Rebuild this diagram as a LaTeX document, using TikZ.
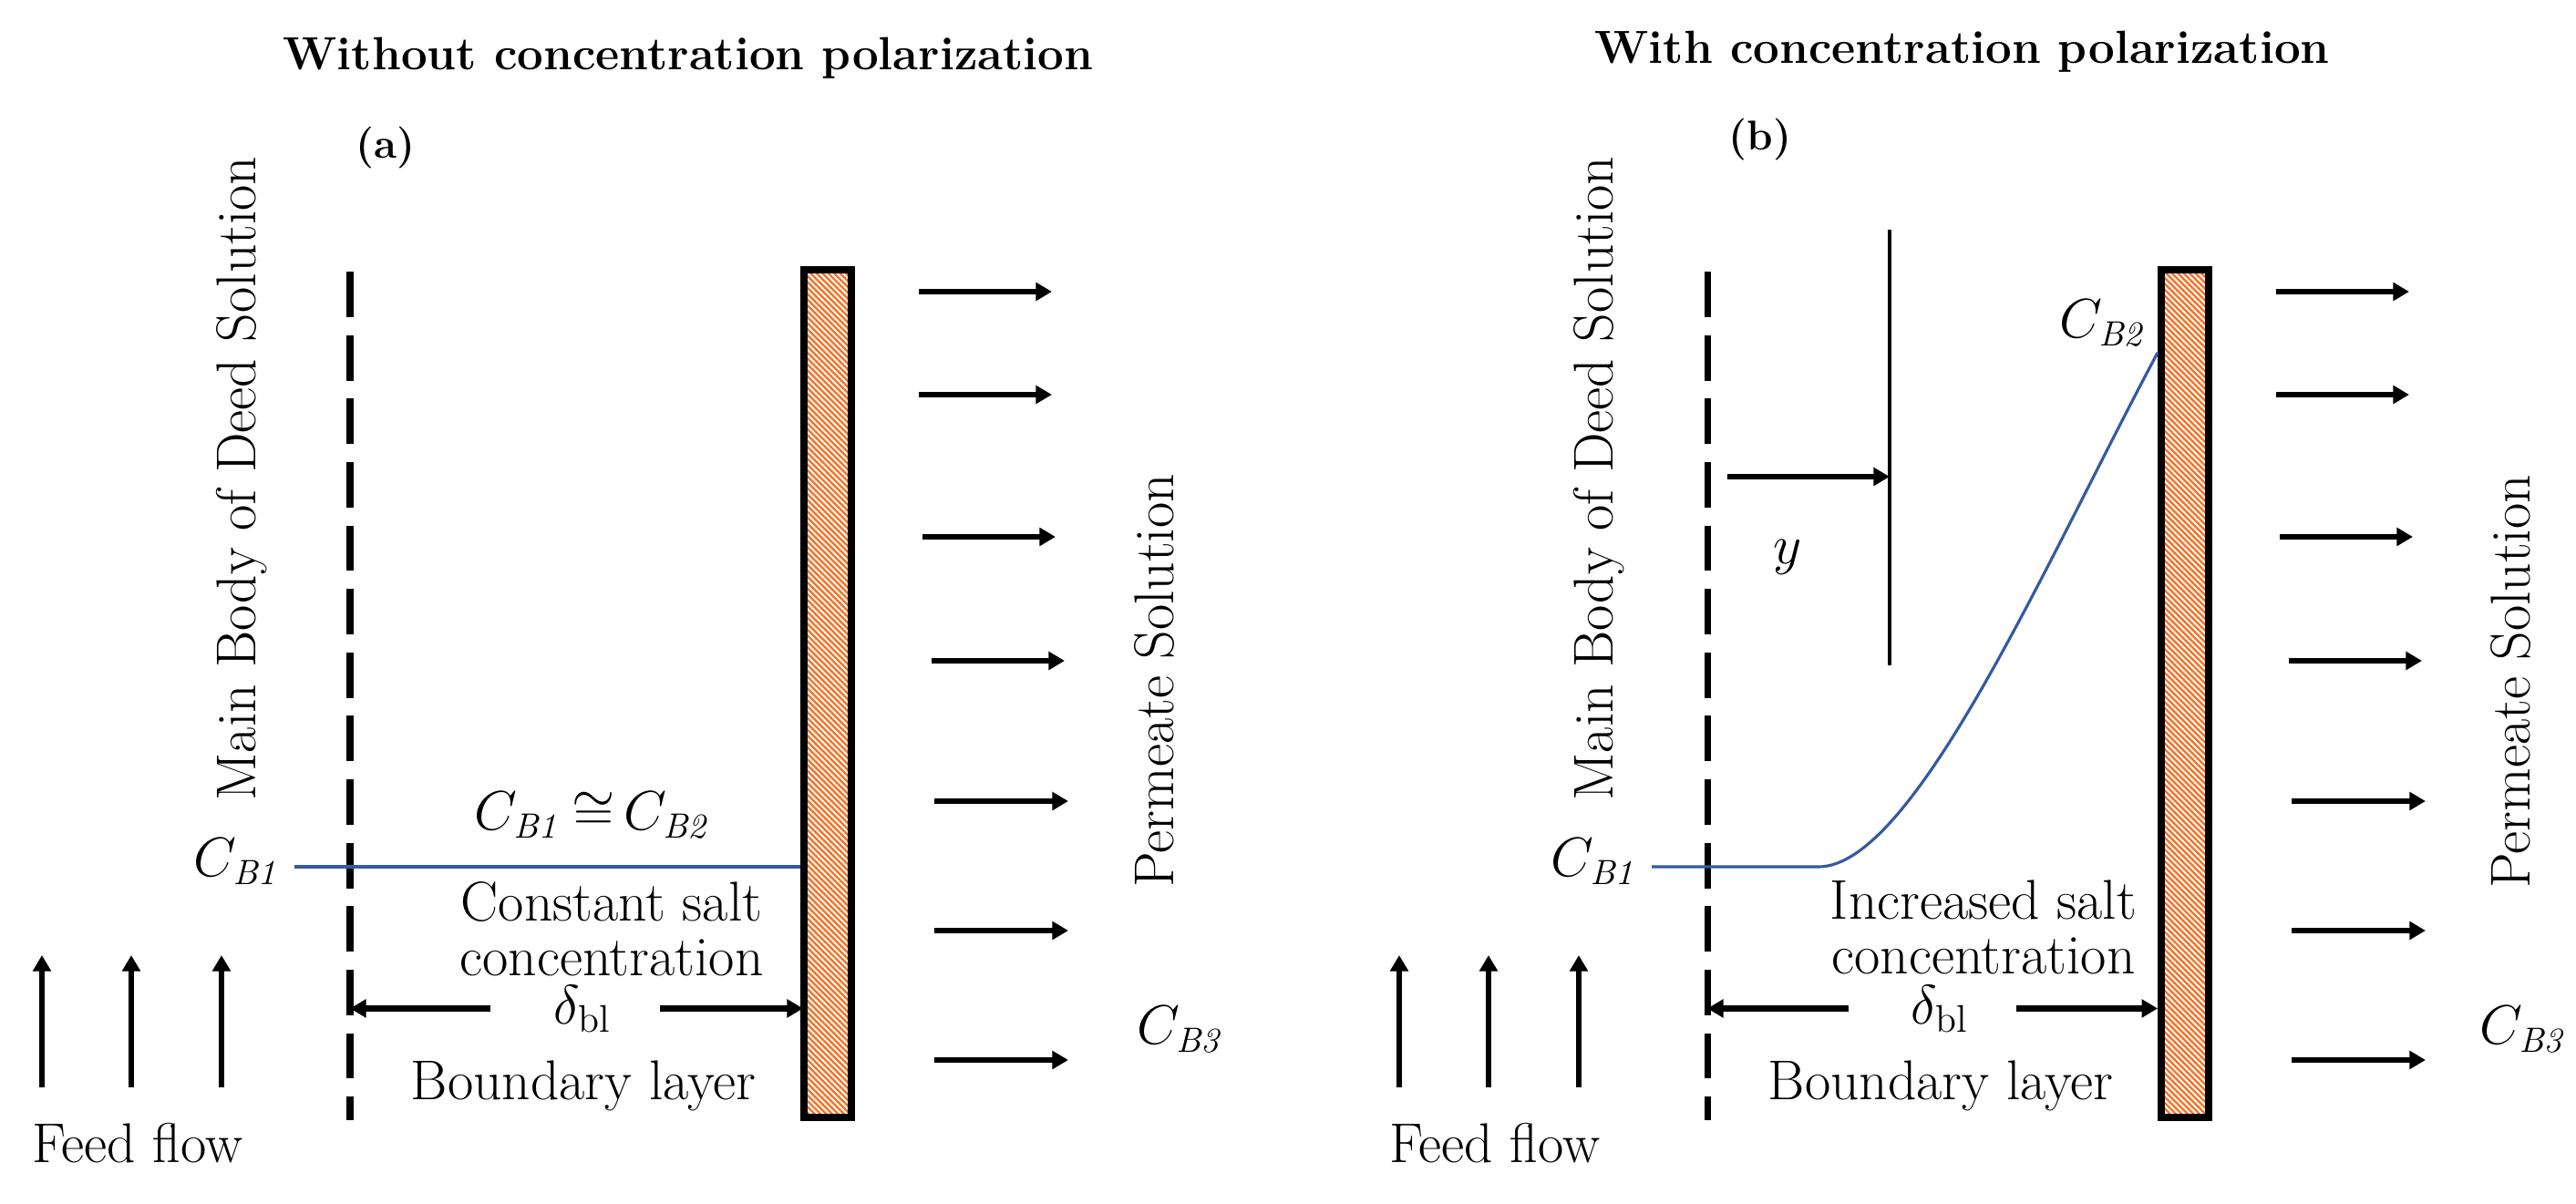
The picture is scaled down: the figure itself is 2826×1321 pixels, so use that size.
\documentclass[tikz,border=0pt]{standalone}
\usetikzlibrary{arrows.meta, patterns.meta, positioning}

\definecolor{membraneorange}{RGB}{246,114,38}
\definecolor{profileblue}{RGB}{52,90,160}

\begin{document}
\begin{tikzpicture}[x=0.01cm, y=-0.01cm,
		txt/.style={font=\fontsize{17.5}{21}\selectfont, inner sep=0pt},
		conc/.style={font=\fontsize{16}{19}\selectfont, inner sep=0pt},
		heading/.style={font=\fontsize{14.5}{17}\selectfont\bfseries, inner sep=0pt},
		tag/.style={font=\fontsize{13}{16}\selectfont\bfseries, inner sep=0pt},
		flow/.style={line width=1.9pt, -{Triangle[length=5pt,width=5.5pt]}},
		boundary/.style={line width=2pt, dash pattern=on 14.2pt off 5.6pt},
		membrane/.style={draw, line width=2.2pt, inner sep=0pt, minimum width=0.52cm,
			minimum height=9.3cm, preaction={fill=membraneorange},
			pattern={Lines[angle=-45,distance=1.3pt,line width=0.55pt]}, pattern color=white},
		profile/.style={profileblue, line width=0.9pt}
		]
	\useasboundingbox (0,0) rectangle (2826,1321);
	
	% (a) without concentration polarization
	\node[heading, anchor=base west](TitleA) at (310,77){Without concentration polarization};
	\node[tag](TagA) at (423,162){(a)};
	\node[txt, rotate=90, anchor=base](BulkA) at (280,525){Main Body of Deed Solution};
	\node[membrane](MemA) at (908,761){};
	\coordinate (DashTopA) at (384,298);
	\coordinate (DashBotA) at (384,1229);
	\draw[boundary] (DashTopA) -- (DashBotA);
	\node[conc, anchor=base east](CbOneA) at (310,961){$C_{\mathit{B1}}$};
	\draw[profile] (323,951) -- (878,951);
	\node[conc, anchor=base](EqA) at (651,910){$C_{\mathit{B1}}\,{\cong}\,C_{\mathit{B2}}$};
	\node[txt, anchor=base](SaltA) at (671,1010){Constant salt};
	\node[txt, below = 0.6cm of SaltA.base, anchor=base](ConcA){concentration};
	\node[txt, anchor=base](DeltaA) at (639,1123){$\delta_{\mathrm{bl}}$};
	\draw[flow] (DeltaA.west) ++(-0.69cm,0) -- (DashTopA |- DeltaA.west);
	\draw[flow] (DeltaA.east) ++(0.53cm,0) -- (MemA.west |- DeltaA.east);
	\node[txt, anchor=base](LayerA) at (640,1206){Boundary layer};
	\draw[flow] (46,1193) -- (46,1048);
	\draw[flow] (144,1193) -- (144,1048);
	\draw[flow] (243,1193) -- (243,1048);
	\node[txt, anchor=base](FeedA) at (151,1275){Feed flow};
	\draw[flow] (1008,320) -- (1154,320);
	\draw[flow] (1008,433) -- (1154,433);
	\draw[flow] (1012,589) -- (1158,589);
	\draw[flow] (1022,725) -- (1168,725);
	\draw[flow] (1025,879) -- (1172,879);
	\draw[flow] (1025,1021) -- (1172,1021);
	\draw[flow] (1025,1163) -- (1172,1163);
	\node[txt, rotate=90, anchor=base west](PermA) at (1287,974){Permeate Solution};
	\node[conc, anchor=base west](CbThreeA) at (1247,1145){$C_{\mathit{B3}}$};
	
	% (b) with concentration polarization
	\node[heading, anchor=base west](TitleB) at (1749,70){With concentration polarization};
	\node[tag](TagB) at (1931,153){(b)};
	\node[txt, rotate=90, anchor=base](BulkB) at (1769,525){Main Body of Deed Solution};
	\node[membrane](MemB) at (2397,761){};
	\coordinate (DashTopB) at (1873,298);
	\coordinate (DashBotB) at (1873,1229);
	\draw[boundary] (DashTopB) -- (DashBotB);
	\node[conc, anchor=base east](CbOneB) at (1799,961){$C_{\mathit{B1}}$};
	\coordinate (WallB) at (2367,387);
	\draw[profile] (1812,951) -- (1995,951) .. controls (2100,951) and (2245,615) .. (WallB);
	\node[conc, anchor=base east](CbTwoB) at (2357,370){$C_{\mathit{B2}}$};
	\coordinate (FrontTopB) at (2073,252);
	\coordinate (FrontBotB) at (2073,730);
	\draw[line width=0.9pt] (FrontTopB) -- (FrontBotB);
	\draw[flow] (1895,523) -- (FrontTopB |- 0,523);
	\node[txt, anchor=base](YB) at (1961,618){$y$};
	\node[txt, anchor=base](SaltB) at (2176,1008){Increased salt};
	\node[txt, below = 0.6cm of SaltB.base, anchor=base](ConcB){concentration};
	\node[txt, anchor=base](DeltaB) at (2128,1123){$\delta_{\mathrm{bl}}$};
	\draw[flow] (DeltaB.west) ++(-0.68cm,0) -- (DashTopB |- DeltaB.west);
	\draw[flow] (DeltaB.east) ++(0.52cm,0) -- (MemB.west |- DeltaB.east);
	\node[txt, anchor=base](LayerB) at (2129,1206){Boundary layer};
	\draw[flow] (1535,1193) -- (1535,1048);
	\draw[flow] (1633,1193) -- (1633,1048);
	\draw[flow] (1732,1193) -- (1732,1048);
	\node[txt, anchor=base](FeedB) at (1640,1275){Feed flow};
	\draw[flow] (2497,320) -- (2643,320);
	\draw[flow] (2497,433) -- (2643,433);
	\draw[flow] (2501,589) -- (2647,589);
	\draw[flow] (2511,725) -- (2657,725);
	\draw[flow] (2514,879) -- (2661,879);
	\draw[flow] (2514,1021) -- (2661,1021);
	\draw[flow] (2514,1163) -- (2661,1163);
	\node[txt, rotate=90, anchor=base west](PermB) at (2775,975){Permeate Solution};
	\node[conc, anchor=base east](CbThreeB) at (2818,1145){$C_{\mathit{B3}}$};
\end{tikzpicture}
\end{document}
